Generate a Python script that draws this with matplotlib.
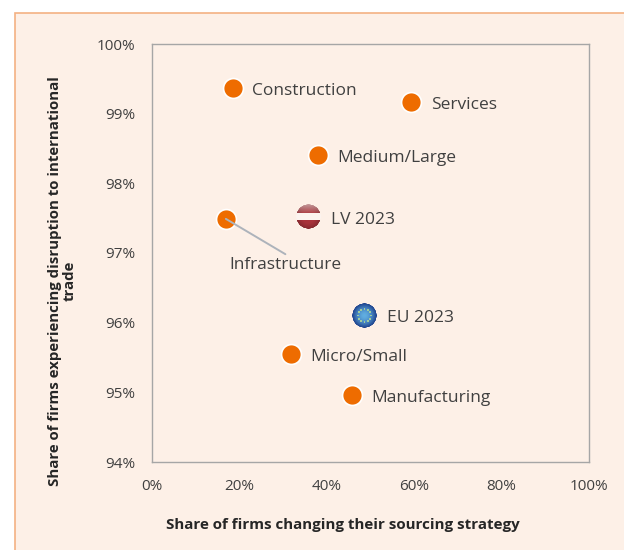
import numpy as np
import matplotlib
matplotlib.use("Agg")
import matplotlib.pyplot as plt
from matplotlib.offsetbox import AnnotationBbox, OffsetImage
from matplotlib.patches import Rectangle

plt.rcParams["font.family"] = ["Open Sans", "DejaVu Sans"]

PANEL = "#fdf0e7"
EDGE = "#f4b183"
ORANGE = "#ee6c00"
TEXT = "#404040"

sectors = ["Construction", "Services", "Medium/Large", "Infrastructure", "Micro/Small", "Manufacturing"]
sector_x = [18.5, 59.3, 38.0, 16.9, 31.8, 45.8]
sector_y = [99.37, 99.17, 98.41, 97.49, 95.55, 94.96]

lv_x, lv_y = 35.9, 97.52
eu_x, eu_y = 48.7, 96.10

x_ticks = [0, 20, 40, 60, 80, 100]
y_ticks = [94, 95, 96, 97, 98, 99, 100]


def ball(kind, size=75):
    # shaded round flag marker, drawn at 3x and scaled down
    yy, xx = np.mgrid[-1:1:size * 1j, -1:1:size * 1j]
    r = np.hypot(xx, yy)
    img = np.zeros((size, size, 4))
    if kind == "lv":
        shade = np.clip(1.08 - 0.3 * r**2, 0, 1)[..., None]
        red = np.array([0.66, 0.20, 0.23]) * shade
        top = np.clip((-yy - 0.15) * 1.0, 0, 1)[..., None]
        img[..., :3] = red + (np.array([0.82, 0.68, 0.68]) - red) * top
        band = np.abs(yy + 0.02) < 0.27
        img[band, :3] = [0.99, 0.96, 0.94]
    else:
        mix = np.clip(r**1.8, 0, 1)[..., None]
        img[..., :3] = np.array([0.38, 0.68, 0.88]) * (1 - mix) + np.array([0.10, 0.24, 0.54]) * mix
        for ang in np.arange(12) * np.pi / 6:
            near = np.hypot(xx - 0.52 * np.cos(ang), yy - 0.52 * np.sin(ang)) < 0.08
            img[near, :3] = [0.62, 0.80, 0.62]
    img[..., 3] = np.clip((1 - r) * size / 2, 0, 1)
    return img


fig = plt.figure(figsize=(6.24, 5.5), dpi=100, facecolor="white")
fig.add_artist(Rectangle((15.5 / 624, -0.01), 1, 1.01 - 13 / 550, transform=fig.transFigure,
                         facecolor=PANEL, edgecolor=EDGE, linewidth=1.2, zorder=-1))

ax = fig.add_axes([152 / 624, 1 - 462 / 550, 437 / 624, 418 / 550])
ax.patch.set_alpha(0)
ax.set_xlim(0, 100)
ax.set_ylim(94, 100)
ax.set_xticks(x_ticks, [f"{t}%" for t in x_ticks])
ax.set_yticks(y_ticks, [f"{t}%" for t in y_ticks])
ax.tick_params(length=0, labelsize=11, labelcolor=TEXT, pad=12)
for spine in ax.spines.values():
    spine.set_color("#a6a6a6")
    spine.set_linewidth(1.0)

ax.set_xlabel("Share of firms changing their sourcing strategy", fontsize=10.9, fontweight="bold",
              color="#262626", va="center")
ax.xaxis.set_label_coords((343 - 152) / 437, (462 - 525) / 418)
ax.set_ylabel("Share of firms experiencing disruption to international\ntrade", fontsize=10.8,
              fontweight="bold", color="#262626", va="center", linespacing=1.05)
ax.yaxis.set_label_coords((62 - 152) / 437, (462 - 281) / 418)

ax.scatter(sector_x, sector_y, s=205, color=ORANGE, edgecolor="white", linewidth=1.2, zorder=3)

for name, x, y in zip(sectors, sector_x, sector_y):
    if name == "Infrastructure":
        ax.annotate(name, xy=(x, y), xytext=(2.5, -33.5), textcoords="offset points", fontsize=12.4, color=TEXT,
                    va="center", ha="left",
                    arrowprops=dict(arrowstyle="-", color="#adb3bb", linewidth=1.4, shrinkA=0, shrinkB=0,
                                    relpos=(0.5, 1.2)), zorder=4)
    else:
        ax.annotate(name, xy=(x, y), xytext=(14, -2.3), textcoords="offset points", fontsize=12.5, color=TEXT,
                    va="center", ha="left")

for kind, x, y, label in [("lv", lv_x, lv_y, "LV 2023"), ("eu", eu_x, eu_y, "EU 2023")]:
    box = AnnotationBbox(OffsetImage(ball(kind), zoom=1 / 3, dpi_cor=False), (x, y), frameon=False, pad=0, zorder=3)
    ax.add_artist(box)
    ax.annotate(label, xy=(x, y), xytext=(16, -2), textcoords="offset points", fontsize=12.5, color=TEXT,
                va="center", ha="left")

fig.savefig("out.png", dpi=100)
